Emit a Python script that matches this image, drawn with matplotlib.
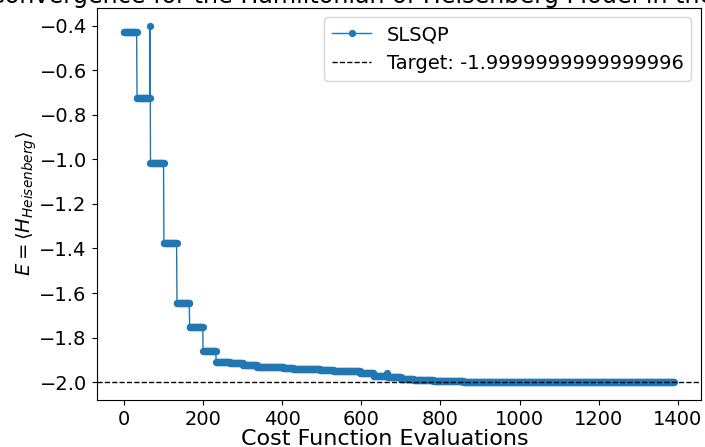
import numpy as np
import matplotlib
matplotlib.use("Agg")
import matplotlib.pyplot as plt

# Optimizer trace: each entry is the first evaluation index of a plateau
# and the energy held during that plateau.
step_first_eval = [0, 33, 67, 101, 134, 166, 200, 233, 268, 301, 336,
                   403, 428, 496, 530, 597, 631, 667, 700, 732, 782, 858]
step_energy = [-0.430, -0.725, -1.015, -1.375, -1.645, -1.752, -1.860,
               -1.908, -1.915, -1.925, -1.930, -1.935, -1.940, -1.945,
               -1.952, -1.960, -1.972, -1.978, -1.985, -1.990, -1.995,
               -1.99995]
# Line-search probes that jump above the current plateau
spike_eval = [66, 666]
spike_energy = [-0.400, -1.957]
n_evals = 1390

target = -1.9999999999999996
title = "Convergence for the Hamiltonian of Heisenberg Model in the 1D ring"

evals = np.arange(n_evals)
bounds = step_first_eval[1:] + [n_evals]
energy = np.concatenate([np.full(b - a, v) for a, b, v in
                         zip(step_first_eval, bounds, step_energy)])
energy[spike_eval] = spike_energy

W, H = 705, 447
fig = plt.figure(figsize=(W / 100, H / 100), dpi=100)
ax = fig.add_axes([96.5 / W, 1 - 400 / H, (701 - 96.5) / W, (400 - 7.7) / H])

ax.plot(evals, energy, "o-", color="C0", markersize=4.2, linewidth=1,
        label="SLSQP")
ax.axhline(target, color="k", linestyle="--", linewidth=1,
           label=f"Target: {target}")

ax.set_xticks(np.arange(0, 1401, 200))
ax.tick_params(labelsize=14)
ax.set_xlabel("Cost Function Evaluations", fontsize=16, labelpad=0.5,
              x=0.477)
ax.set_ylabel(r"$E = \langle H_{Heisenberg} \rangle$", fontsize=14,
              labelpad=0)
ax.set_title(title, fontsize=17.2, pad=0.5)
ax.legend(loc="upper right", fontsize=14)

fig.savefig("out.png", dpi=100)
